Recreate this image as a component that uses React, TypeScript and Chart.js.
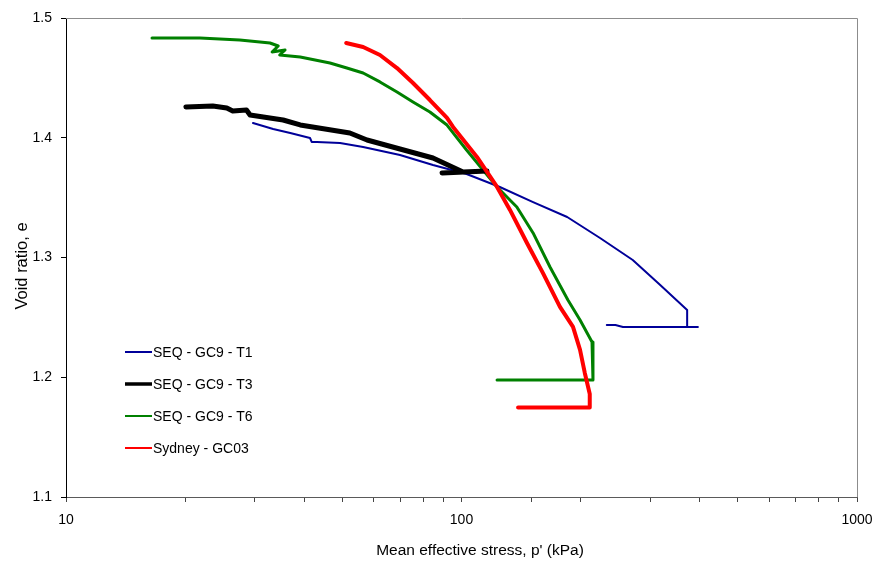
import React, { useEffect, useRef } from 'react';
import { Chart, registerables } from 'chart.js';

Chart.register(...registerables);

// Mean effective stress p' (kPa) and void ratio e for each test
const t1P = [29.7, 33.4, 36.9, 41.4, 41.8, 43.1, 49.3, 56.4, 69.9, 84.7, 103, 125, 151.7, 185, 224, 271, 318, 372, 372, 396, 256, 245, 233];
const t1E = [1.4123, 1.4073, 1.404, 1.3998, 1.3965, 1.3965, 1.3956, 1.3923, 1.3856, 1.3772, 1.3697, 1.3589, 1.3463, 1.3338, 1.3163, 1.2979, 1.277, 1.2562, 1.242, 1.242, 1.242, 1.2436, 1.2436];

const t3P = [20.1, 23.5, 25.5, 26.4, 28.6, 29.2, 35.4, 39.1, 52.2, 57.7, 69.9, 84.7, 100.9, 116, 89.3];
const t3E = [1.4257, 1.4265, 1.4248, 1.4223, 1.4232, 1.419, 1.4148, 1.4107, 1.404, 1.3981, 1.3906, 1.3831, 1.3714, 1.3722, 1.3706];

const t6P = [16.5, 21.8, 27.5, 32.8, 34.4, 33.2, 35.8, 34.7, 39.1, 46.5, 51.3, 56.4, 62.2, 68.7, 75.4, 83.2, 91.9, 103, 123, 138, 151.7, 167.4, 185.8, 199.4, 213.8, 215, 215, 123];
const t6E = [1.4833, 1.4833, 1.4816, 1.4791, 1.4766, 1.4716, 1.4733, 1.4691, 1.4674, 1.4624, 1.4582, 1.4541, 1.4466, 1.4382, 1.4299, 1.4215, 1.4106, 1.3898, 1.3589, 1.3422, 1.3205, 1.2921, 1.2645, 1.2478, 1.2294, 1.21, 1.1977, 1.1977];

const sydP = [51.1, 56.4, 62.2, 68.7, 75.4, 83.2, 91.9, 95.2, 109.4, 123, 132.6, 146.4, 160.7, 177.4, 191.4, 199.4, 205, 211, 211, 139];
const sydE = [1.4791, 1.4758, 1.4691, 1.4582, 1.4457, 1.4315, 1.4165, 1.409, 1.384, 1.3589, 1.3397, 1.3121, 1.287, 1.2587, 1.242, 1.2228, 1.2036, 1.186, 1.1748, 1.1748];

const seriesNames = ['SEQ - GC9 - T1', 'SEQ - GC9 - T3', 'SEQ - GC9 - T6', 'Sydney - GC03'];
const seriesColors = ['#000099', '#000000', '#008000', '#ff0000'];
const xLabelledTicks = [10, 100, 1000];
const yMin = 1.1;
const yMax = 1.5;
const xTitle = "Mean effective stress, p' (kPa)";
const yTitle = 'Void ratio, e';

const FONT = "'Liberation Sans', Arial, sans-serif";

const toPoints = (p: number[], e: number[]) => p.map((v, i) => ({ x: v, y: e[i] }));

const decorPlugin = {
  id: 'decor',
  beforeDatasetsDraw(chart: any) {
    const { ctx, chartArea } = chart;
    const { left, right, top, bottom } = chartArea;
    ctx.save();
    ctx.strokeStyle = '#8c8c8c';
    ctx.lineWidth = 1;
    ctx.beginPath();
    ctx.moveTo(left, top + 0.5);
    ctx.lineTo(right + 0.5, top + 0.5);
    ctx.lineTo(right + 0.5, bottom);
    ctx.stroke();
    ctx.restore();
  },
  afterDraw(chart: any) {
    const { ctx, chartArea } = chart;
    const { left, top } = chartArea;
    ctx.save();
    // legend
    const legendWidths = [2, 3.5, 2, 2];
    ctx.font = `14px ${FONT}`;
    ctx.textBaseline = 'middle';
    ctx.textAlign = 'left';
    seriesNames.forEach((name, i) => {
      const y = top + 334 + i * 32;
      ctx.strokeStyle = seriesColors[i];
      ctx.lineWidth = legendWidths[i];
      ctx.beginPath();
      ctx.moveTo(left + 59, y);
      ctx.lineTo(left + 86, y);
      ctx.stroke();
      ctx.fillStyle = '#000';
      ctx.fillText(name, left + 87, y + 1);
    });
    // axis titles
    ctx.fillStyle = '#000';
    ctx.font = `15.5px ${FONT}`;
    ctx.textAlign = 'center';
    ctx.textBaseline = 'middle';
    ctx.fillText(xTitle, 480, 551);
    ctx.translate(22, 266);
    ctx.rotate(-Math.PI / 2);
    ctx.font = `16.5px ${FONT}`;
    ctx.fillText(yTitle, 0, 0);
    ctx.restore();
  },
};

export default function App() {
  const canvasRef = useRef<HTMLCanvasElement | null>(null);

  useEffect(() => {
    document.body.style.margin = '0';
    const canvas = canvasRef.current;
    if (!canvas) return;
    const chart = new Chart(canvas, {
      type: 'scatter',
      data: {
        datasets: [
          { label: seriesNames[3], data: toPoints(sydP, sydE), borderColor: seriesColors[3], borderWidth: 4 },
          { label: seriesNames[1], data: toPoints(t3P, t3E), borderColor: seriesColors[1], borderWidth: 5 },
          { label: seriesNames[2], data: toPoints(t6P, t6E), borderColor: seriesColors[2], borderWidth: 3 },
          { label: seriesNames[0], data: toPoints(t1P, t1E), borderColor: seriesColors[0], borderWidth: 2 },
        ].map((d) => ({
          ...d,
          showLine: true,
          pointRadius: 0,
          pointHoverRadius: 0,
          fill: false,
          tension: 0,
          backgroundColor: d.borderColor,
          borderJoinStyle: 'round' as const,
          borderCapStyle: 'round' as const,
        })),
      },
      options: {
        animation: false,
        responsive: false,
        maintainAspectRatio: false,
        layout: { padding: { left: 0, top: 18, right: 18, bottom: 0 } },
        plugins: { legend: { display: false }, tooltip: { enabled: false } },
        scales: {
          x: {
            type: 'logarithmic',
            min: 10,
            max: 1000,
            afterFit: (s: any) => {
              s.height = 71;
              s.paddingLeft = 0;
              s.paddingRight = 0;
            },
            border: { display: true, color: '#5a5a5a', width: 1 },
            grid: { display: true, drawOnChartArea: false, drawTicks: true, tickLength: 5, color: '#444' },
            ticks: {
              autoSkip: false,
              maxRotation: 0,
              padding: 10,
              color: '#000',
              font: { family: FONT, size: 14 },
              callback: (value: any) => {
                const v = Number(value);
                return xLabelledTicks.some((t) => Math.abs(t - v) < 1e-6) ? String(v) : '';
              },
            },
            title: { display: false },
          },
          y: {
            type: 'linear',
            min: yMin,
            max: yMax,
            afterFit: (s: any) => {
              s.width = 66;
              s.paddingTop = 0;
              s.paddingBottom = 0;
            },
            border: { display: true, color: '#000', width: 1 },
            grid: { display: true, drawOnChartArea: false, drawTicks: true, tickLength: 5, color: '#000' },
            ticks: {
              stepSize: 0.1,
              padding: 9,
              color: '#000',
              font: { family: FONT, size: 14 },
              callback: (value: any) => Number(value).toFixed(1),
            },
            title: { display: false },
          },
        },
      },
      plugins: [decorPlugin],
    });
    return () => chart.destroy();
  }, []);

  return (
    <div style={{ width: 875, height: 568 }}>
      <canvas ref={canvasRef} width={875} height={568} style={{ display: 'block', width: 875, height: 568 }} />
    </div>
  );
}
